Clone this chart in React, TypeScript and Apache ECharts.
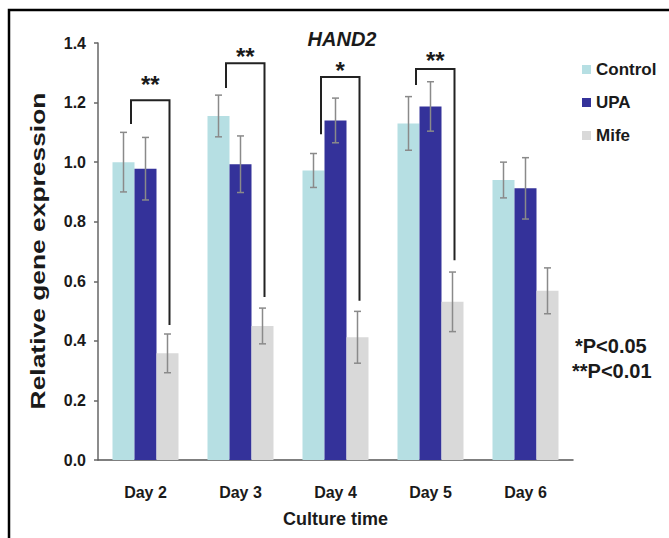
import React, { useEffect, useRef } from "react";
import * as echarts from "echarts";

const categories = ["Day 2", "Day 3", "Day 4", "Day 5", "Day 6"];
const seriesNames = ["Control", "UPA", "Mife"];
const controlValues = [1.0, 1.155, 0.972, 1.13, 0.94];
const controlErrors = [0.1, 0.07, 0.057, 0.09, 0.06];
const upaValues = [0.978, 0.993, 1.14, 1.187, 0.912];
const upaErrors = [0.105, 0.095, 0.075, 0.083, 0.103];
const mifeValues = [0.358, 0.45, 0.412, 0.531, 0.568];
const mifeErrors = [0.065, 0.06, 0.087, 0.1, 0.077];

// significance brackets
const bracketIndex = [0, 1, 2, 3];
const bracketTop = [1.208, 1.332, 1.286, 1.313];
const bracketLeftEnd = [1.128, 1.249, 1.094, 1.259];
const bracketRightEnd = [0.453, 0.547, 0.535, 0.671];
const bracketStars = ["**", "**", "*", "**"];
const starLevel = [1.262, 1.356, 1.309, 1.34];

const pNotes = ["*P<0.05", "**P<0.01"];
const yAxisTitle = "Relative gene expression";

const FONT = "'Liberation Sans', Arial, Helvetica, sans-serif";
const TEXT = "#1a1a1a";

function errorSeries(name: string, vals: number[], errs: number[], offset: number) {
  return {
    type: "custom",
    name: name + " err",
    silent: true,
    z: 10,
    data: vals.map((v, i) => [i, v - errs[i], v + errs[i]]),
    encode: { x: 0, y: [1, 2] },
    renderItem: (params: any, api: any) => {
      const lo = api.coord([api.value(0), api.value(1)]);
      const hi = api.coord([api.value(0), api.value(2)]);
      const x = lo[0] + offset;
      const cap = 3.5;
      const style = { stroke: "#8a8a8a", lineWidth: 1.5 };
      return {
        type: "group",
        children: [
          { type: "line", shape: { x1: x, y1: lo[1], x2: x, y2: hi[1] }, style },
          { type: "line", shape: { x1: x - cap, y1: hi[1], x2: x + cap, y2: hi[1] }, style },
          { type: "line", shape: { x1: x - cap, y1: lo[1], x2: x + cap, y2: lo[1] }, style },
        ],
      };
    },
  };
}

export default function App() {
  const ref = useRef<HTMLDivElement>(null);
  useEffect(() => {
    if (!ref.current) return;
    const chart = echarts.init(ref.current, null, { renderer: "svg" });
    const option: any = {
      animation: false,
      backgroundColor: "#ffffff",
      textStyle: { fontFamily: FONT },
      title: {
        text: "HAND2",
        left: 337,
        textAlign: "center",
        top: 24,
        textStyle: { fontSize: 20, fontWeight: "bold", fontStyle: "italic", color: TEXT, fontFamily: FONT },
      },
      legend: {
        data: seriesNames,
        orient: "vertical",
        left: 582,
        top: 61,
        padding: 0,
        itemWidth: 9,
        itemHeight: 9,
        itemGap: 16,
        icon: "rect",
        textStyle: { fontSize: 17, fontWeight: "bold", color: TEXT, fontFamily: FONT },
      },
      grid: { left: 98, right: 96, top: 43, bottom: 78, containLabel: false },
      xAxis: {
        type: "category",
        data: categories,
        name: "Culture time",
        nameLocation: "middle",
        nameGap: 50,
        nameTextStyle: { fontSize: 18, fontWeight: "bold", color: TEXT, fontFamily: FONT },
        axisLine: { lineStyle: { color: "#555", width: 1.5 } },
        axisTick: { show: false },
        axisLabel: { fontSize: 16, fontWeight: "bold", color: TEXT, margin: 24, fontFamily: FONT },
      },
      yAxis: {
        type: "value",
        min: 0,
        max: 1.4,
        interval: 0.2,
        axisLine: { show: true, lineStyle: { color: "#666", width: 1.5 } },
        axisTick: { show: true, length: 4, lineStyle: { color: "#666", width: 1.5 } },
        splitLine: { show: false },
        axisLabel: {
          fontSize: 16,
          fontWeight: "bold",
          color: TEXT,
          margin: 12,
          fontFamily: FONT,
          formatter: (v: number) => v.toFixed(1),
        },
      },
      series: [
        { type: "bar", name: "Control", data: controlValues, barWidth: 22, barGap: "0%", itemStyle: { color: "#b6dfe3" } },
        { type: "bar", name: "UPA", data: upaValues, barWidth: 22, barGap: "0%", itemStyle: { color: "#34329a" } },
        { type: "bar", name: "Mife", data: mifeValues, barWidth: 22, barGap: "0%", itemStyle: { color: "#d9d9d9" } },
        errorSeries("Control", controlValues, controlErrors, -22),
        errorSeries("UPA", upaValues, upaErrors, 0),
        errorSeries("Mife", mifeValues, mifeErrors, 22),
        {
          type: "custom",
          name: "brackets",
          silent: true,
          z: 12,
          data: bracketIndex.map((c, i) => [c, bracketTop[i], bracketLeftEnd[i], bracketRightEnd[i], starLevel[i]]),
          encode: { x: 0, y: [1, 2, 3] },
          renderItem: (params: any, api: any) => {
            const c = api.value(0);
            const top = api.coord([c, api.value(1)]);
            const le = api.coord([c, api.value(2)]);
            const re = api.coord([c, api.value(3)]);
            const st = api.coord([c, api.value(4)]);
            const xl = top[0] - 14.5;
            const xr = top[0] + 24;
            return {
              type: "group",
              children: [
                {
                  type: "polyline",
                  shape: { points: [[xl, le[1]], [xl, top[1]], [xr, top[1]], [xr, re[1]]] },
                  style: { stroke: "#222", lineWidth: 2, fill: null },
                },
                {
                  type: "text",
                  x: (xl + xr) / 2,
                  y: st[1],
                  style: {
                    text: bracketStars[params.dataIndex],
                    fontSize: 24,
                    fontWeight: "bold",
                    fontFamily: FONT,
                    fill: TEXT,
                    align: "center",
                    verticalAlign: "middle",
                  },
                },
              ],
            };
          },
        },
      ],
      graphic: [
        {
          type: "rect",
          shape: { x: 9, y: 10, width: 700, height: 600 },
          style: { fill: "none", stroke: "#000", lineWidth: 2.5 },
          silent: true,
        },
        {
          type: "text",
          x: 38,
          y: 251,
          rotation: Math.PI / 2,
          scaleX: 1.32,
          style: {
            text: yAxisTitle,
            fontSize: 20,
            fontWeight: "bold",
            fill: TEXT,
            fontFamily: FONT,
            align: "center",
            verticalAlign: "middle",
          },
        },
        {
          type: "text",
          left: 575,
          top: 336,
          style: { text: pNotes[0], fontSize: 20, fontWeight: "bold", fill: TEXT, fontFamily: FONT },
        },
        {
          type: "text",
          left: 572,
          top: 361,
          style: { text: pNotes[1], fontSize: 20, fontWeight: "bold", fill: TEXT, fontFamily: FONT },
        },
      ],
    };
    chart.setOption(option);
    return () => chart.dispose();
  }, []);
  return <div ref={ref} style={{ position: "absolute", left: 0, top: 0, width: 669, height: 538 }} />;
}
